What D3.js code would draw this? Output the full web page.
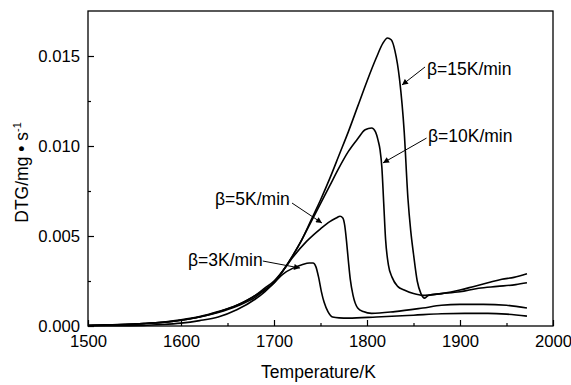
<!DOCTYPE html>
<html><head><meta charset="utf-8">
<script src="https://cdn.jsdelivr.net/npm/d3@7"></script>
<style>body{margin:0;background:#fff}svg{display:block}text{font-family:"Liberation Sans",Arial,sans-serif;fill:#000}</style>
</head><body>
<script>
// ---- data ----
const xTicks = [1500, 1600, 1700, 1800, 1900, 2000];
const yTicks = [0.000, 0.005, 0.010, 0.015];
const yTickLabels = ["0.000", "0.005", "0.010", "0.015"];
const seriesNames = ["β=3K/min", "β=5K/min", "β=10K/min", "β=15K/min"];

const t3  = [1500,1520,1540,1560,1580,1600,1620,1640,1660,1680,1690,1700,1710,1720,1730,1738,1742,1745,1748,1751,1754,1758,1763,1770,1780,1810,1850,1880,1905,1930,1950,1972];
const v3  = [0.00003,0.00005,0.00008,0.00013,0.0002,0.00032,0.0005,0.00075,0.0011,0.0016,0.0020,0.0024,0.0029,0.0032,0.0034,0.0035,0.0035,0.0033,0.0027,0.0019,0.0013,0.0008,0.0005,0.00045,0.00044,0.0005,0.0006,0.00068,0.0007,0.0007,0.00066,0.00055];

const t5  = [1500,1520,1540,1560,1580,1600,1620,1640,1660,1680,1690,1700,1710,1720,1735,1750,1760,1767,1771,1774,1776,1778,1780,1782,1785,1790,1796,1805,1830,1860,1880,1900,1925,1950,1972];
const v5  = [0.00004,0.00006,0.00009,0.00014,0.00021,0.00034,0.00052,0.0008,0.00115,0.0017,0.0021,0.0025,0.0031,0.0038,0.0047,0.0054,0.0058,0.0060,0.0061,0.0060,0.0056,0.0047,0.0036,0.0026,0.0017,0.0010,0.0008,0.0007,0.0008,0.001,0.00115,0.0012,0.0012,0.00115,0.001];

const t10 = [1500,1520,1540,1560,1580,1600,1620,1640,1660,1680,1690,1700,1710,1720,1730,1740,1750,1760,1770,1780,1790,1798,1805,1809,1812,1814,1816,1818,1820,1823,1827,1833,1840,1850,1860,1880,1900,1920,1940,1960,1972];
const v10 = [0.00003,0.00005,0.00008,0.00013,0.0002,0.00032,0.0005,0.00078,0.00115,0.0017,0.0020,0.0024,0.0031,0.0039,0.0048,0.0058,0.0068,0.0078,0.0088,0.0097,0.0104,0.0109,0.0110,0.0108,0.0103,0.0098,0.0088,0.0068,0.0048,0.0034,0.0027,0.0022,0.0020,0.0018,0.0017,0.0018,0.0019,0.0021,0.0022,0.0023,0.0024];

const t15 = [1500,1540,1560,1580,1600,1620,1640,1660,1680,1690,1700,1710,1720,1730,1740,1750,1760,1770,1780,1790,1800,1810,1817,1822,1826,1830,1835,1840,1844,1847,1850,1854,1858,1862,1866,1880,1900,1915,1930,1945,1958,1972];
const v15 = [0.00001,0.00002,0.00003,0.00008,0.00016,0.0003,0.0005,0.0009,0.0015,0.0019,0.0024,0.0031,0.0039,0.0048,0.0059,0.0070,0.0082,0.0095,0.0108,0.0122,0.0136,0.0149,0.0157,0.0160,0.0159,0.0153,0.0137,0.0108,0.0071,0.0053,0.0040,0.0025,0.0018,0.00155,0.0017,0.0018,0.0020,0.0022,0.0024,0.0026,0.0027,0.0029];

// label anchors (data units): text position and arrow from->to
const labelT   = [1607.5, 1636.6, 1865.6, 1864.5];
const labelV   = [0.00367, 0.00706, 0.01056, 0.01428];
const arrowT0  = [1688, 1719.4, 1864.0, 1862.4];
const arrowV0  = [0.00361, 0.00683, 0.01044, 0.01439];
const arrowT1  = [1728, 1751.6, 1817.2, 1837.6];
const arrowV1  = [0.00322, 0.00572, 0.00906, 0.01339];

const W = 571, H = 385;
const m = {left: 88, right: 18, top: 11, bottom: 59};
const svg = d3.select("body").append("svg").attr("width", W).attr("height", H);
const x = d3.scaleLinear().domain([1500, 2000]).range([m.left, W - m.right]);
const y = d3.scaleLinear().domain([0, 0.0175]).range([H - m.bottom, m.top]);

svg.append("defs").append("marker")
  .attr("id", "ah").attr("viewBox", "0 0 10 10").attr("refX", 10).attr("refY", 5)
  .attr("markerWidth", 7).attr("markerHeight", 6).attr("markerUnits", "userSpaceOnUse")
  .attr("orient", "auto")
  .append("path").attr("d", "M0,0 L10,5 L0,10 Z").attr("fill", "#000");

// axes (inward ticks)
const xMinor = d3.range(1500, 2001, 50).filter(d => d % 100 !== 0);
const yMinor = d3.range(0.0025, 0.0175, 0.005);
const gx = svg.append("g").attr("transform", `translate(0,${H - m.bottom})`);
gx.call(d3.axisBottom(x).tickValues(xTicks).tickFormat(d3.format("d")).tickSizeInner(-6).tickSizeOuter(0).tickPadding(9));
gx.selectAll(".tick text").attr("font-size", 16.7);
gx.call(g => g.select(".domain").remove());
const gxm = svg.append("g").attr("transform", `translate(0,${H - m.bottom})`);
gxm.call(d3.axisBottom(x).tickValues(xMinor).tickFormat("").tickSizeInner(-3).tickSizeOuter(0));
gxm.select(".domain").remove();

const gy = svg.append("g").attr("transform", `translate(${m.left},0)`);
gy.call(d3.axisLeft(y).tickValues(yTicks).tickFormat((d, i) => yTickLabels[i]).tickSizeInner(-6).tickSizeOuter(0).tickPadding(8));
gy.selectAll(".tick text").attr("font-size", 16.7);
gy.select(".domain").remove();
const gym = svg.append("g").attr("transform", `translate(${m.left},0)`);
gym.call(d3.axisLeft(y).tickValues(yMinor).tickFormat("").tickSizeInner(-3).tickSizeOuter(0));
gym.select(".domain").remove();
svg.selectAll(".tick line").attr("stroke", "#000").attr("stroke-width", 1.2);

// frame
svg.append("rect").attr("x", m.left).attr("y", m.top)
  .attr("width", W - m.left - m.right).attr("height", H - m.top - m.bottom)
  .attr("fill", "none").attr("stroke", "#000").attr("stroke-width", 1.3);

// curves
const line = d3.line().x(d => x(d[0])).y(d => y(d[1])).curve(d3.curveMonotoneX);
const series = [[t3, v3], [t5, v5], [t10, v10], [t15, v15]];
series.forEach(([t, v]) => {
  svg.append("path").datum(t.map((d, i) => [d, v[i]]))
    .attr("d", line).attr("fill", "none").attr("stroke", "#000").attr("stroke-width", 1.6);
});

// labels and arrows
seriesNames.forEach((name, i) => {
  svg.append("line")
    .attr("x1", x(arrowT0[i])).attr("y1", y(arrowV0[i]))
    .attr("x2", x(arrowT1[i])).attr("y2", y(arrowV1[i]))
    .attr("stroke", "#000").attr("stroke-width", 1).attr("marker-end", "url(#ah)");
  svg.append("text").attr("x", x(labelT[i])).attr("y", y(labelV[i]))
    .attr("dy", "0.35em").attr("font-size", 17.5).text(name);
});

// axis titles
svg.append("text").attr("x", (m.left + W - m.right) / 2 - 2).attr("y", 378)
  .attr("text-anchor", "middle").attr("font-size", 17.5).text("Temperature/K");
const yl = svg.append("text").attr("transform", `translate(28,${(m.top + H - m.bottom) / 2 + 4}) rotate(-90)`)
  .attr("text-anchor", "middle").attr("font-size", 17.5);
yl.append("tspan").text("DTG/mg • s");
yl.append("tspan").attr("dy", -7).attr("font-size", 11).text("-1");
</script>
</body></html>
